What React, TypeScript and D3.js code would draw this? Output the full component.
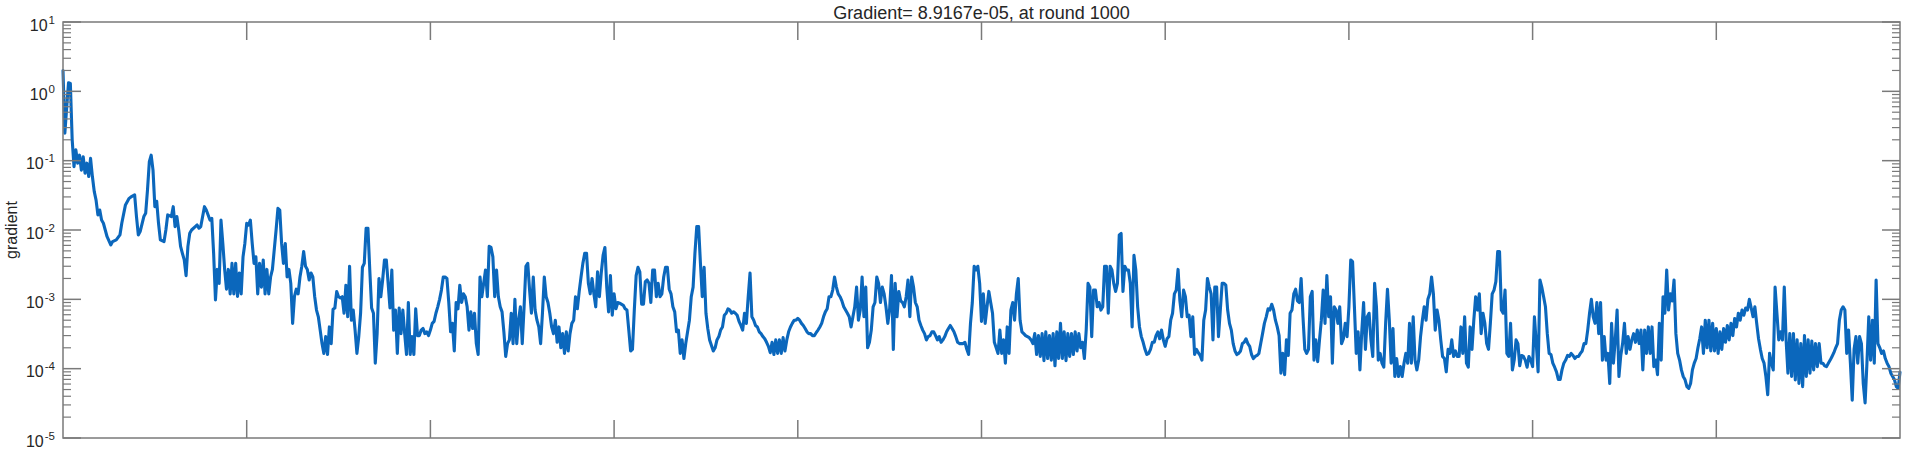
import React from 'react';
import * as d3 from 'd3';

const TITLE = 'Gradient= 8.9167e-05, at round 1000';
const Y_LABEL = 'gradient';
const X_DOMAIN: [number, number] = [0, 1000];
const X_TICKS = [100, 200, 300, 400, 500, 600, 700, 800, 900];
const Y_DOMAIN: [number, number] = [1e-5, 10];
const Y_DECADES = [-5, -4, -3, -2, -1, 0, 1];
const Y_MINOR_MULTIPLIERS = [2, 3, 4, 5, 6, 7, 8, 9];

// [round, gradient]
const samples: [number, number][] = [
  [0,2.0],[1,0.25],[3,1.33],[4,1.3],[5,0.2],[6,0.082],[7,0.143],[8,0.092],[9,0.12],[10,0.073],[11,0.114],[12,0.066],[13,0.092],[14,0.059],[15,0.108],[16,0.059],[17,0.036],[18,0.027],[19,0.0165],[20,0.0194],[21,0.0139],[22,0.0125],[23,0.01],[24,0.008],[26,0.0061],[27,0.0068],[29,0.0072],[31,0.0085],[32,0.0125],[34,0.023],[36,0.0286],[37,0.03],[39,0.032],[40,0.0156],[41,0.0085],[42,0.0095],[44,0.0156],[45,0.0174],[46,0.038],[47,0.097],[48,0.12],[49,0.073],[50,0.0217],[51,0.026],[52,0.0125],[53,0.0072],[55,0.0068],[56,0.01],[57,0.0165],[59,0.0156],[60,0.0217],[61,0.0112],[62,0.0156],[63,0.01],[64,0.0058],[65,0.0046],[66,0.0037],[67,0.0022],[68,0.0058],[69,0.009],[70,0.01],[72,0.0112],[73,0.0118],[74,0.0106],[75,0.0112],[77,0.0217],[78,0.0194],[80,0.0139],[81,0.0147],[82,0.0046],[83,0.00098],[84,0.0027],[85,0.0017],[86,0.0139],[87,0.0064],[88,0.0027],[89,0.0014],[90,0.0027],[91,0.0012],[92,0.0033],[93,0.0012],[94,0.0033],[95,0.0011],[96,0.0024],[97,0.0012],[98,0.0041],[99,0.0064],
  [100,0.0125],[101,0.0118],[102,0.0139],[103,0.0064],[104,0.0033],[105,0.0041],[106,0.0012],[107,0.0033],[108,0.0015],[109,0.0037],[110,0.0012],[111,0.0027],[112,0.0012],[113,0.0021],[114,0.0027],[116,0.01],[117,0.0205],[118,0.0194],[119,0.0064],[120,0.0033],[121,0.0064],[122,0.0021],[123,0.0027],[124,0.0017],[125,0.00045],[126,0.0011],[127,0.0014],[128,0.0012],[129,0.0021],[130,0.003],[131,0.0049],[132,0.003],[133,0.0027],[134,0.0019],[135,0.0024],[136,0.0021],[137,0.0011],[138,0.0007],[139,0.00056],[140,0.00036],[141,0.00023],
  [142,1.66e-4],[143,2.9e-4],[144,1.6e-4],[145,4.0e-4],[146,2.3e-4],[147,7.2e-4],[148,7.5e-4],[149,1.3e-3],[150,1.09e-3],[151,1.05e-3],[152,1.09e-3],[153,6.3e-4],[154,1.6e-3],[155,5.6e-4],[156,3.0e-3],[157,5.0e-4],[158,7.0e-4],[159,3.6e-4],[160,1.66e-4],[161,2.9e-4],[162,6.3e-4],[163,2.9e-3],[164,3.3e-3],[165,0.0106],[166,0.0106],[167,2.65e-3],[168,7.5e-4],[169,6.3e-4],[170,1.2e-4],[171,3.2e-4],[172,2.0e-3],[173,1.09e-3],[174,1.9e-3],[175,3.7e-3],[176,3.7e-3],[177,1.7e-3],[178,7.5e-4],[179,2.65e-3],[180,3.6e-4],[181,7.0e-4],[182,1.66e-4],[183,7.5e-4],[184,3.2e-4],[185,7.0e-4],[186,3.2e-4],[187,1.6e-4],[188,9.0e-4],[189,1.6e-4],[190,2.9e-4],[191,1.6e-4],[192,7.3e-4],[193,3.0e-4],[194,3.0e-4],[195,3.6e-4],[196,3.8e-4],[197,3.2e-4],[198,3.4e-4],[199,3.0e-4],
  [200,3.6e-4],[201,4.5e-4],[202,4.8e-4],[203,6.3e-4],[204,7.8e-4],[205,1.0e-3],[206,1.36e-3],[207,2.1e-3],[208,2.1e-3],[209,2.0e-3],[210,9.0e-4],[211,3.4e-4],[212,4.5e-4],[213,1.8e-4],[214,9.0e-4],[215,7.3e-4],[216,1.6e-3],[217,9.0e-4],[218,1.2e-3],[219,1.09e-3],[220,7.8e-4],[221,3.6e-4],[222,6.6e-4],[223,3.8e-4],[224,6.3e-4],[225,2.3e-4],[226,1.6e-4],[227,2.1e-3],[228,1.09e-3],[229,1.7e-3],[230,2.65e-3],[231,1.09e-3],[232,5.8e-3],[233,5.6e-3],[234,4.1e-3],[235,1.09e-3],[236,2.65e-3],[237,1.09e-3],[238,7.8e-4],[239,6.6e-4],[240,3.4e-4],[241,1.5e-4],[242,2.3e-4],[243,2.6e-4],[244,6.3e-4],[245,2.3e-4],[246,1.0e-3],[247,2.3e-4],[248,5.0e-4],[249,7.8e-4],[250,2.3e-4],[251,7.8e-4],[252,3.0e-3],[253,3.3e-3],[254,1.36e-3],[255,6.3e-4],[256,2.1e-3],[257,7.0e-4],[258,5.0e-4],[259,4.0e-4],[260,2.3e-4],[261,6.3e-4],[262,2.1e-3],[263,1.09e-3],[264,9.0e-4],[265,6.3e-4],[266,4.0e-4],[267,3.2e-4],[268,5.0e-4],[269,2.4e-4],[270,4.0e-4],[271,2.0e-4],[272,3.2e-4],[273,1.66e-4],[274,3.4e-4],[275,1.8e-4],[276,3.2e-4],[277,4.5e-4],[278,5.0e-4],[279,1.09e-3],[280,7.3e-4],[281,1.3e-3],[282,2.1e-3],[283,3.3e-3],[284,4.6e-3],
  [285,4.6e-3],[286,1.7e-3],[287,1.2e-3],[288,2.0e-3],[289,1.2e-3],[290,7.8e-4],[291,2.5e-3],[292,1.09e-3],[293,2.4e-3],[294,4.3e-3],[295,5.6e-3],[296,1.5e-3],[297,6.6e-4],[298,2.2e-3],[299,5.9e-4],
  [300,1.2e-3],[301,7.3e-4],[302,9.0e-4],[303,8.8e-4],[305,8.2e-4],[306,7.3e-4],[307,7.0e-4],[308,3.6e-4],[309,1.8e-4],[310,1.9e-4],[311,7.0e-4],[312,2.2e-3],[313,2.9e-3],[314,2.5e-3],[315,8.5e-4],[316,8.5e-4],[317,1.8e-3],[318,1.9e-3],[319,1.7e-3],[320,9.0e-4],[321,2.65e-3],[322,2.65e-3],[323,1.09e-3],[324,1.7e-3],[325,1.09e-3],[326,1.2e-3],[327,2.1e-3],[328,2.9e-3],[329,2.9e-3],[330,1.4e-3],[331,1.2e-3],[332,7.8e-4],[333,6.6e-4],[334,3.4e-4],[335,3.6e-4],[336,1.66e-4],[337,2.6e-4],[338,1.4e-4],[339,2.3e-4],[340,3.4e-4],[341,5.0e-4],[342,1.09e-3],[343,1.5e-3],[344,4.6e-3],[345,0.0112],[346,0.0112],[347,3.3e-3],[348,1.09e-3],[349,2.9e-3],[350,6.3e-4],[351,3.8e-4],[352,2.6e-4],[354,1.8e-4],[355,2.0e-4],[356,2.6e-4],[357,2.9e-4],[358,3.6e-4],[359,4.0e-4],[360,5.9e-4],[361,6.3e-4],[362,7.3e-4],[363,7.0e-4],[364,6.3e-4],[365,6.6e-4],[366,6.3e-4],[367,5.9e-4],[368,4.8e-4],[369,4.2e-4],[370,3.6e-4],[371,6.3e-4],[372,4.5e-4],[373,1.09e-3],[374,2.4e-3],[375,5.6e-4],[376,5.0e-4],[377,4.2e-4],[378,4.0e-4],[379,3.4e-4],[380,3.2e-4],[381,2.9e-4],[382,2.7e-4],[383,2.4e-4],[384,2.1e-4],[385,1.7e-4],[386,2.4e-4],[387,1.6e-4],[388,2.6e-4],[389,1.66e-4],[390,2.6e-4],[391,1.66e-4],[392,2.8e-4],[393,1.8e-4],[394,2.6e-4],[395,3.4e-4],[396,4.0e-4],[397,4.5e-4],[398,5.0e-4],[399,5.0e-4],
  [400,5.3e-4],[401,5.0e-4],[402,4.5e-4],[403,4.2e-4],[404,3.8e-4],[405,3.4e-4],[406,3.2e-4],[407,3.2e-4],[408,3.0e-4],[409,3.0e-4],[410,3.3e-4],[411,3.6e-4],[412,4.0e-4],[413,4.5e-4],[414,5.6e-4],[415,6.6e-4],[416,7.3e-4],[417,1.09e-3],[418,1.09e-3],[419,1.36e-3],[420,2.1e-3],[421,1.5e-3],[422,1.2e-3],[423,1.09e-3],[424,9.5e-4],[425,7.8e-4],[426,7.0e-4],[427,6.3e-4],[428,5.6e-4],
  [429,4.0e-4],[430,5.6e-4],[431,7.8e-4],[432,1.5e-3],[433,5.0e-4],[434,7.0e-4],[435,2.1e-3],[436,5.6e-4],[437,1.5e-3],[438,2.0e-4],[439,2.4e-4],[440,3.6e-4],[441,7.8e-4],[442,9.0e-4],[443,2.1e-3],[444,1.7e-3],[445,9.0e-4],[446,1.5e-3],[447,1.2e-3],[448,7.8e-4],[449,4.5e-4],[450,7.3e-4],[451,2.2e-3],[452,1.9e-4],[453,1.7e-3],[454,5.6e-4],[455,1.3e-3],[456,9.5e-4],[457,9.0e-4],[458,7.8e-4],[459,1.09e-3],[460,1.9e-3],[461,5.6e-4],[462,2.1e-3],[463,1.5e-3],[464,9.0e-4],[465,7.8e-4],[466,5.0e-4],[467,4.2e-4],[468,3.6e-4],[469,3.2e-4],[470,2.6e-4],[471,2.9e-4],[472,3.0e-4],[473,3.4e-4],[474,3.4e-4],[475,3.0e-4],[476,2.6e-4],[477,2.9e-4],[478,2.4e-4],[479,2.6e-4],[480,2.9e-4],[481,3.4e-4],[482,3.8e-4],[483,4.2e-4],[484,3.8e-4],[485,3.4e-4],[486,2.9e-4],[487,2.4e-4],[488,2.3e-4],[489,2.3e-4],[490,2.3e-4],[491,2.4e-4],[492,1.9e-4],[493,1.6e-4],[494,4.5e-4],[495,9.0e-4],[496,3.0e-3],[497,2.65e-3],[498,3.0e-3],[499,1.7e-3],
  [500,4.8e-4],[501,1.2e-3],[502,4.5e-4],[503,7.8e-4],[504,1.3e-3],[505,9.0e-4],[506,6.3e-4],[507,2.4e-4],[508,2.0e-4],[509,1.66e-4],[510,3.6e-4],[511,1.66e-4],[512,2.6e-4],[513,1.2e-4],[514,4.0e-4],[515,1.66e-4],[516,7.0e-4],[517,9.0e-4],[518,5.0e-4],[519,1.2e-3],[520,2.0e-3],[521,5.0e-4],[522,3.4e-4],[523,3.2e-4],[524,3.0e-4],[525,2.9e-4],[526,2.8e-4],[527,2.6e-4],[528,2.3e-4],[529,3.2e-4],[530,1.6e-4],[531,3.0e-4],[532,1.5e-4],[533,3.2e-4],[534,1.3e-4],[535,3.4e-4],[536,1.4e-4],[537,3.0e-4],[538,1.33e-4],[539,3.2e-4],[540,1.1e-4],[541,3.4e-4],[542,1.4e-4],[543,4.5e-4],[544,1.4e-4],[545,3.4e-4],[546,1.3e-4],[547,3.2e-4],[548,1.5e-4],[549,3.2e-4],[550,1.6e-4],[551,3.4e-4],[552,1.8e-4],[553,3.2e-4],[554,2.0e-4],[555,2.4e-4],[556,1.4e-4],[557,3.6e-4],[558,1.7e-3],[559,1.5e-3],[560,2.9e-4],[561,1.36e-3],[562,1.36e-3],[563,7.8e-4],[564,9.0e-4],[565,7.0e-4],[566,7.8e-4],[567,3.0e-3],[568,3.0e-3],[569,6.3e-4],[570,3.0e-3],[571,2.65e-3],[572,1.7e-3],
  [573,1.3e-3],[574,1.7e-3],[575,8.5e-3],[576,8.9e-3],[577,1.3e-3],[578,3.0e-3],[579,2.65e-3],[580,2.65e-3],[581,1.7e-3],[582,4.0e-4],[583,4.3e-3],[584,2.65e-3],[585,7.8e-4],[586,4.0e-4],[587,2.9e-4],[588,2.4e-4],[589,1.9e-4],[590,1.6e-4],[591,1.66e-4],[592,1.9e-4],[593,2.4e-4],[594,2.4e-4],[595,3.0e-4],[596,3.4e-4],[597,2.7e-4],[598,3.6e-4],[599,2.6e-4],
  [600,2.1e-4],[601,2.7e-4],[602,2.9e-4],[603,5.0e-4],[604,6.3e-4],[605,1.2e-3],[606,1.36e-3],[607,2.7e-3],[608,9.5e-4],[609,5.6e-4],[610,1.36e-3],[611,1.09e-3],[612,5.6e-4],[613,5.9e-4],[614,2.9e-4],[615,5.6e-4],[616,1.6e-4],[617,1.9e-4],[618,1.7e-4],[619,1.55e-4],[620,1.33e-4],[621,5.0e-4],[622,7.0e-4],[623,2.0e-3],[624,1.5e-3],[625,1.2e-3],[626,2.6e-4],[627,1.5e-3],[628,1.5e-3],[629,2.9e-4],[630,7.0e-4],[631,1.7e-3],[632,1.7e-3],[633,1.6e-3],[634,7.0e-4],[635,4.5e-4],[636,3.6e-4],[637,2.3e-4],[638,1.8e-4],[639,1.6e-4],[640,1.66e-4],[641,1.8e-4],[642,2.3e-4],[643,2.4e-4],[644,2.7e-4],[645,2.3e-4],[646,2.1e-4],[647,1.6e-4],[648,1.4e-4],[649,1.5e-4],[650,1.55e-4],[651,1.66e-4],[652,2.3e-4],[653,3.2e-4],[654,4.5e-4],[655,5.6e-4],[656,7.3e-4],[657,7.0e-4],[658,8.5e-4],[659,7.0e-4],[660,5.0e-4],[661,4.0e-4],[662,3.0e-4],[663,8.6e-5],[664,1.66e-4],[665,8.2e-5],[666,2.6e-4],[667,1.55e-4],[668,6.3e-4],[669,7.0e-4],[670,1.2e-3],[671,1.4e-3],[672,9.5e-4],[673,9.0e-4],[674,2.0e-3],[675,5.6e-4],[676,1.9e-4],[677,1.66e-4],[678,1.9e-4],[679,1.09e-3],[680,1.3e-3],[681,1.33e-4],[682,2.6e-4],[683,1.26e-4],[684,2.6e-4],[685,5.0e-4],[686,1.36e-3],[687,4.5e-4],[688,2.2e-3],[689,5.6e-4],[690,1.09e-3],[691,1.2e-4],[692,7.8e-4],[693,7.0e-4],[694,4.5e-4],[695,7.8e-4],[696,2.3e-4],[697,2.7e-4],[698,4.5e-4],[699,2.9e-4],
  [700,7.8e-4],[701,3.7e-3],[702,3.5e-3],[703,7.8e-4],[704,1.66e-4],[705,3.4e-4],[706,9.6e-5],[707,3.4e-4],[708,9.0e-4],[709,1.9e-4],[710,5.6e-4],[711,6.3e-4],[712,2.6e-4],[713,1.5e-4],[714,1.7e-3],
  [715,7.8e-4],[716,1.33e-4],[717,1.66e-4],[718,1.2e-4],[719,1.05e-4],[720,4.5e-4],[721,1.4e-3],[722,5.0e-4],[723,1.2e-4],[724,3.8e-4],[725,7.7e-5],[726,1.4e-4],[727,7.7e-5],[728,1.07e-4],[729,7.7e-5],[730,1.2e-4],[731,1.66e-4],[732,1.2e-4],[733,4.5e-4],[734,1.2e-4],[735,5.6e-4],[736,1.33e-4],[737,9.6e-5],[738,1.33e-4],[739,2.9e-4],[740,5.0e-4],[741,7.8e-4],[742,5.0e-4],[743,1.0e-3],[744,1.2e-3],[745,2.1e-3],[746,1.2e-3],[747,3.6e-4],[748,7.0e-4],[749,5.0e-4],[750,2.6e-4],[751,1.5e-4],[752,1.4e-4],[753,9.0e-5],[754,1.9e-4],[755,1.66e-4],[756,2.6e-4],[757,1.5e-4],[758,1.8e-4],[759,1.5e-4],[760,1.5e-4],[761,4.0e-4],[762,1.66e-4],[763,5.6e-4],[764,1.2e-4],[765,1.05e-4],[766,4.0e-4],[767,1.9e-4],[768,5.0e-4],[769,1.09e-3],[770,7.0e-4],[771,1.2e-3],[772,3.2e-4],[773,6.3e-4],[774,4.5e-4],[775,2.3e-4],[776,1.9e-4],[777,4.5e-4],[778,1.2e-3],[779,1.36e-3],[780,1.8e-3],[781,4.9e-3],[782,4.9e-3],[783,7.0e-4],[784,6.3e-4],[785,1.36e-3],[786,1.66e-4],[787,1.5e-4],[788,4.5e-4],[789,9.6e-5],[790,1.33e-4],[791,2.6e-4],[792,2.3e-4],[793,1.1e-4],[794,1.55e-4],[795,1.5e-4],[796,1.33e-4],[797,1.05e-4],[798,1.5e-4],[799,1.33e-4],
  [800,1.07e-4],[801,5.6e-4],[802,2.3e-4],[803,9.0e-5],[804,1.9e-3],[805,1.5e-3],[806,1.09e-3],[807,7.8e-4],[808,3.2e-4],[809,1.66e-4],[810,1.6e-4],[811,1.2e-4],[812,1.05e-4],[813,9.0e-5],[814,7.0e-5],[815,7.0e-5],[816,9.6e-5],[817,1.2e-4],[818,1.33e-4],[819,1.55e-4],[820,1.5e-4],[821,1.66e-4],[822,1.55e-4],[823,1.4e-4],[824,1.5e-4],[825,1.5e-4],[826,1.66e-4],[827,1.8e-4],[828,2.3e-4],[829,2.3e-4],[830,3.6e-4],[831,6.3e-4],[832,1.0e-3],[833,5.6e-4],[834,4.5e-4],[835,9.0e-4],[836,3.2e-4],[837,9.0e-4],[838,1.33e-4],[839,2.9e-4],[840,1.33e-4],[841,1.66e-4],[842,6.1e-5],[843,4.5e-4],[844,1.2e-4],[845,2.6e-4],[846,7.0e-4],[847,7.7e-5],[848,1.55e-4],[849,2.3e-4],[850,4.5e-4],[851,1.66e-4],[852,2.9e-4],[853,1.9e-4],[854,2.6e-4],[855,3.2e-4],[856,2.4e-4],[857,3.6e-4],
  [858,2.3e-4],[859,3.6e-4],[860,9.6e-5],[861,3.6e-4],[862,1.66e-4],[863,4.0e-4],[864,1.66e-4],[865,4.0e-4],[866,1.07e-4],[867,1.33e-4],[868,8.2e-5],[869,4.5e-4],[870,1.33e-4],[871,1.09e-3],[872,6.3e-4],[873,2.65e-3],[874,7.0e-4],[875,1.2e-3],[876,9.5e-4],[877,1.9e-3],[878,3.2e-4],[879,1.66e-4],[880,1.33e-4],[881,9.6e-5],[882,7.7e-5],[883,6.9e-5],[884,5.5e-5],[885,5.2e-5],[886,6.1e-5],[887,9.6e-5],[888,1.2e-4],[889,1.4e-4],[890,2.0e-4],[891,2.7e-4],[892,4.0e-4],[893,1.66e-4],[894,5.0e-4],[895,2.0e-4],[896,5.0e-4],[897,1.8e-4],[898,4.5e-4],[899,1.8e-4],
  [900,3.8e-4],[901,1.66e-4],[902,3.4e-4],[903,1.9e-4],[904,3.8e-4],[905,2.4e-4],[906,4.2e-4],[907,2.6e-4],[908,4.5e-4],[909,3.0e-4],[910,5.3e-4],[911,4.0e-4],[912,6.3e-4],[913,5.0e-4],[914,7.0e-4],[915,5.9e-4],[916,7.5e-4],[917,7.0e-4],[918,1.0e-3],[919,7.5e-4],[920,5.6e-4],[921,7.8e-4],[922,4.5e-4],[923,2.7e-4],[924,1.9e-4],[925,1.4e-4],[926,1.2e-4],[927,7.7e-5],[928,4.2e-5],[929,1.66e-4],[930,1.2e-4],[931,9.6e-5],[932,1.5e-3],[933,6.3e-4],[934,2.6e-4],[935,3.4e-4],[936,2.6e-4],[937,1.5e-3],[938,2.6e-4],[939,8.6e-5],[940,3.2e-4],[941,7.7e-5],[942,3.2e-4],[943,6.9e-5],[944,2.6e-4],[945,6.1e-5],[946,2.3e-4],[947,5.5e-5],[948,3.0e-4],[949,7.7e-5],[950,2.6e-4],[951,8.6e-5],[952,2.5e-4],[953,9.6e-5],[954,2.3e-4],[955,1.07e-4],[956,2.3e-4],[957,1.2e-4],[958,1.2e-4],[959,1.1e-4],[960,1.07e-4],[961,1.2e-4],[962,1.33e-4],[963,1.5e-4],[964,1.7e-4],[965,2.0e-4],[966,2.3e-4],[967,5.0e-4],[968,7.0e-4],[969,7.8e-4],[970,7.0e-4],[971,1.66e-4],[972,3.6e-4],[973,1.2e-4],[974,3.5e-5],[975,1.9e-4],[976,2.9e-4],[977,1.2e-4],[978,2.9e-4],[979,2.3e-4],[980,6.1e-5],[981,3.2e-5],[982,1.2e-4],[983,5.6e-4],[984,1.33e-4],[985,5.0e-4],[986,1.2e-4],[987,1.9e-3],[988,2.3e-4],[989,2.0e-4],[990,1.66e-4],[991,1.8e-4],[992,1.4e-4],[993,1.2e-4],[994,1.07e-4],[995,8.6e-5],[996,7.7e-5],[997,6.9e-5],[998,5.5e-5],[999,5.2e-5],[1000,8.9e-5],
];

const FONT = '"Liberation Sans", Arial, Helvetica, sans-serif';
const AXIS_COLOR = '#7a7a7a';
const TEXT_COLOR = '#262626';
const LINE_COLOR = '#0b67bc';

export default function App() {
  const W = 1907;
  const H = 451;
  const left = 63, right = 1900, top = 22, bottom = 438;

  const x = d3.scaleLinear().domain(X_DOMAIN).range([left, right]);
  const y = d3.scaleLog().domain(Y_DOMAIN).range([bottom, top]);

  const linePath = d3
    .line<[number, number]>()
    .x((d) => x(d[0]))
    .y((d) => y(d[1]))(samples) || '';

  const minorVals: number[] = [];
  Y_DECADES.slice(0, -1).forEach((d) => {
    Y_MINOR_MULTIPLIERS.forEach((m) => minorVals.push(m * Math.pow(10, d)));
  });

  const majorLen = 18;
  const minorLen = 8;

  return (
    <svg
      width={W}
      height={H}
      style={{ position: 'absolute', left: 0, top: 0, background: '#fff' }}
      fontFamily={FONT}
    >
      <rect x={0} y={0} width={W} height={H} fill="#fff" />
      <path
        d={linePath}
        fill="none"
        stroke={LINE_COLOR}
        strokeWidth={3.1}
        strokeLinejoin="round"
        strokeLinecap="round"
      />
      <rect
        x={left}
        y={top}
        width={right - left}
        height={bottom - top}
        fill="none"
        stroke={AXIS_COLOR}
        strokeWidth={1.5}
      />
      {X_TICKS.map((t) => (
        <g key={'xt' + t} stroke={AXIS_COLOR} strokeWidth={1.5}>
          <line x1={x(t)} x2={x(t)} y1={bottom} y2={bottom - majorLen} />
          <line x1={x(t)} x2={x(t)} y1={top} y2={top + majorLen} />
        </g>
      ))}
      {Y_DECADES.map((d) => {
        const yy = y(Math.pow(10, d));
        return (
          <g key={'ym' + d} stroke={AXIS_COLOR} strokeWidth={1.5}>
            <line x1={left} x2={left + majorLen} y1={yy} y2={yy} />
            <line x1={right} x2={right - majorLen} y1={yy} y2={yy} />
          </g>
        );
      })}
      {minorVals.map((v, i) => {
        const yy = y(v);
        return (
          <g key={'yn' + i} stroke={AXIS_COLOR} strokeWidth={1.2}>
            <line x1={left} x2={left + minorLen} y1={yy} y2={yy} />
            <line x1={right} x2={right - minorLen} y1={yy} y2={yy} />
          </g>
        );
      })}
      {Y_DECADES.map((d) => {
        const yy = y(Math.pow(10, d));
        return (
          <text
            key={'yl' + d}
            x={55}
            y={yy + 8.5}
            textAnchor="end"
            fontSize={16}
            fill={TEXT_COLOR}
          >
            10
            <tspan dy={-7} fontSize={11.5} dx={1}>
              {String(d)}
            </tspan>
          </text>
        );
      })}
      <text
        transform={`translate(17,${(top + bottom) / 2}) rotate(-90)`}
        textAnchor="middle"
        fontSize={16}
        fill={TEXT_COLOR}
      >
        {Y_LABEL}
      </text>
      <text
        x={(left + right) / 2}
        y={19}
        textAnchor="middle"
        fontSize={18}
        fill={TEXT_COLOR}
      >
        {TITLE}
      </text>
    </svg>
  );
}
